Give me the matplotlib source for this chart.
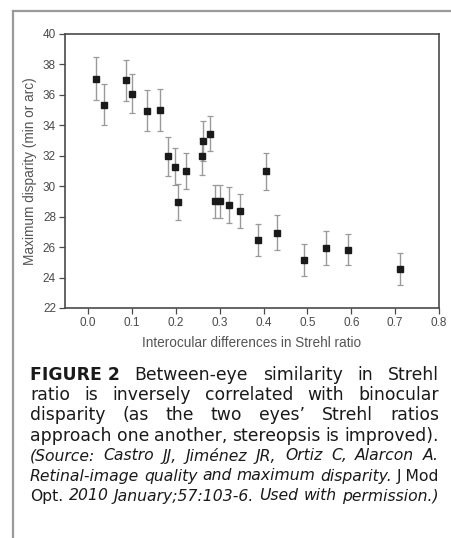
import numpy as np
import matplotlib
matplotlib.use("Agg")
import matplotlib.pyplot as plt
from matplotlib.lines import Line2D

W, H = 452, 538
DPI = 100
FONT = "Liberation Sans"
CAP_FONT = "DejaVu Sans"

# values
strehl_diff = [0.018, 0.036, 0.086, 0.100, 0.133, 0.163, 0.181, 0.199, 0.204, 0.224,
               0.259, 0.262, 0.277, 0.290, 0.300, 0.322, 0.346, 0.388, 0.405, 0.431,
               0.491, 0.542, 0.592, 0.712]
max_disparity = [37.07, 35.36, 36.96, 36.07, 34.97, 35.00, 31.96, 31.28, 28.96, 31.00,
                 31.96, 32.97, 33.45, 29.00, 29.00, 28.76, 28.37, 26.46, 30.97, 26.94,
                 25.14, 25.95, 25.84, 24.55]
error = [1.40, 1.35, 1.33, 1.27, 1.35, 1.40, 1.30, 1.20, 1.20, 1.20,
         1.20, 1.30, 1.15, 1.10, 1.10, 1.20, 1.10, 1.05, 1.20, 1.15,
         1.05, 1.10, 1.00, 1.05]
x_ticks = [0.0, 0.1, 0.2, 0.3, 0.4, 0.5, 0.6, 0.7, 0.8]
y_ticks = [22, 24, 26, 28, 30, 32, 34, 36, 38, 40]

# caption lines: (word, weight, style)
CAPTION = [
    [("FIGURE 2", "bold", "normal"), ("Between-eye", "normal", "normal"),
     ("similarity", "normal", "normal"), ("in", "normal", "normal"), ("Strehl", "normal", "normal")],
    [(w, "normal", "normal") for w in "ratio is inversely correlated with binocular".split()],
    [(w, "normal", "normal") for w in "disparity (as the two eyes\u2019 Strehl ratios".split()],
    [(w, "normal", "normal") for w in "approach one another, stereopsis is improved).".split()],
]
SOURCE = [
    [(w, "normal", "italic") for w in "(Source: Castro JJ, Jim\u00e9nez JR, Ortiz C, Alarcon A.".split()],
    [(w, "normal", "italic") for w in "Retinal-image quality and maximum disparity.".split()]
    + [("J Mod", "normal", "normal")],
    [("Opt.", "normal", "normal")]
    + [(w, "normal", "italic") for w in "2010 January;57:103-6. Used with permission.)".split()],
]

fig = plt.figure(figsize=(W / DPI, H / DPI), dpi=DPI)
renderer = fig.canvas.get_renderer()

# outer frame (top and left rules)
fig.add_artist(Line2D([13 / W, 1], [1 - 10.5 / H, 1 - 10.5 / H], color="#9a9a9a", lw=1.6))
fig.add_artist(Line2D([13 / W, 13 / W], [0, 1 - 10.5 / H], color="#9a9a9a", lw=1.6))

ax = fig.add_axes([65 / W, 1 - 308 / H, (439 - 65) / W, (308 - 34) / H])
ax.errorbar(strehl_diff, max_disparity, yerr=error, fmt="none", ecolor="#9a9a9a",
            elinewidth=1.0, capsize=2.2, capthick=0.9, zorder=2)
ax.plot(strehl_diff, max_disparity, "s", color="#1a1a1a", markersize=4, zorder=3)
ax.set_xlim(-0.053, 0.8)
ax.set_ylim(22, 40)
ax.set_xticks(x_ticks)
ax.set_xticklabels([f"{t:.1f}" for t in x_ticks])
ax.set_yticks(y_ticks)
for s in ax.spines.values():
    s.set_color("#4a4a4a")
    s.set_linewidth(1.2)
ax.tick_params(direction="out", length=4, width=0.9, color="#4a4a4a",
               labelsize=8.5, labelcolor="#4a4a4a", pad=2.5)
for lab in ax.get_xticklabels() + ax.get_yticklabels():
    lab.set_family(FONT)
ax.set_xlabel("Interocular differences in Strehl ratio", fontsize=9.8, color="#555555",
              family=FONT, labelpad=5)
ax.set_ylabel("Maximum disparity (min or arc)", fontsize=9.8, color="#555555",
              family=FONT, labelpad=4)


def word_width(word, size, weight, style):
    t = fig.text(0, 0, word, fontsize=size, weight=weight, style=style, family=CAP_FONT)
    w = t.get_window_extent(renderer).width
    t.remove()
    return w


def natural_width(line, size):
    space = word_width("a a", size, "normal", "normal") - 2 * word_width("a", size, "normal", "normal")
    return sum(word_width(w, size, wt, st) for w, wt, st in line) + space * (len(line) - 1)


def justify(line, baseline, size, x0=30, x1=439):
    widths = [word_width(w, size, wt, st) for w, wt, st in line]
    gap = (x1 - x0 - sum(widths)) / (len(line) - 1)
    x = x0
    for (w, wt, st), wd in zip(line, widths):
        fig.text(x / W, 1 - baseline / H, w, fontsize=size, weight=wt, style=st,
                 family=CAP_FONT, color="#1a1a1a", va="baseline", ha="left")
        x += wd + gap


# the 4th caption line fills the column with normal word spacing
main_size = 10 * 409 / natural_width(CAPTION[3], 10)
# the source lines are set a little smaller, with loose spacing
src_size = min(main_size * 0.92, 10 * 380 / natural_width(SOURCE[0], 10))

for i, line in enumerate(CAPTION):
    justify(line, 379.5 + 20.4 * i, main_size)
for i, line in enumerate(SOURCE):
    justify(line, 460.5 + 20 * i, src_size)

fig.savefig("out.png", dpi=DPI)
